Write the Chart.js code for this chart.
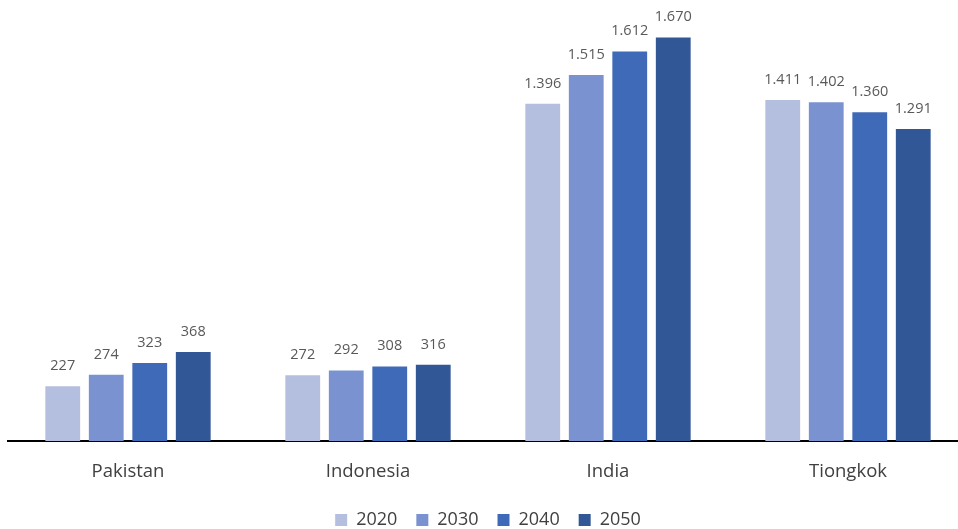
<!DOCTYPE html>
<html>
<head>
<meta charset="utf-8">
<script src="https://cdn.jsdelivr.net/npm/chart.js@4/dist/chart.umd.min.js"></script>
<style>
  html, body { margin: 0; padding: 0; background: #fff; overflow: hidden; }
  #wrap { width: 968px; height: 539px; }
</style>
</head>
<body>
<div id="wrap"><canvas id="populationChart"></canvas></div>
<script>
// Data (millions of people)
const countries = ["Pakistan", "Indonesia", "India", "Tiongkok"];
const years = ["2020", "2030", "2040", "2050"];
const pop2020 = [227, 272, 1396, 1411];
const pop2030 = [274, 292, 1515, 1402];
const pop2040 = [323, 308, 1612, 1360];
const pop2050 = [368, 316, 1670, 1291];

const yearColors = ["#b4bfe0", "#7a93d0", "#3f6ab8", "#315796"];
const fontFamily = "'Open Sans', sans-serif";

// 1396 -> "1.396"
function formatThousands(v) {
  return String(v).replace(/\B(?=(\d{3})+(?!\d))/g, ".");
}

// Simple value labels above each bar
const barValueLabels = {
  id: "barValueLabels",
  afterDatasetsDraw(chart) {
    const ctx = chart.ctx;
    ctx.save();
    ctx.fillStyle = "#595959";
    ctx.font = "14.5px " + fontFamily;
    ctx.textAlign = "center";
    ctx.textBaseline = "bottom";
    chart.data.datasets.forEach((ds, i) => {
      const meta = chart.getDatasetMeta(i);
      meta.data.forEach((bar, j) => {
        ctx.fillText(formatThousands(ds.data[j]), bar.x, bar.y - 13);
      });
    });
    ctx.restore();
  },
};

const seriesValues = [pop2020, pop2030, pop2040, pop2050];

new Chart(document.getElementById("populationChart"), {
  type: "bar",
  data: {
    labels: countries,
    datasets: years.map((year, i) => ({
      label: year,
      data: seriesValues[i],
      backgroundColor: yearColors[i],
      borderWidth: 0,
      categoryPercentage: 0.725,
      barPercentage: 0.8,
    })),
  },
  options: {
    responsive: true,
    maintainAspectRatio: false,
    animation: false,
    layout: { padding: { left: 8, right: 0, top: 6, bottom: 0 } },
    plugins: {
      tooltip: { enabled: false },
      legend: {
        position: "bottom",
        labels: {
          color: "#404040",
          font: { size: 18, family: fontFamily },
          boxWidth: 12,
          boxHeight: 12,
          padding: 19,
        },
      },
    },
    scales: {
      x: {
        grid: { display: false },
        border: { display: true, color: "#000", width: 2 },
        ticks: {
          color: "#404040",
          padding: 12,
          font: { size: 18.5, family: fontFamily },
        },
        afterFit(scale) {
          scale.height = 51;
        },
      },
      y: {
        display: false,
        min: 0,
        max: 1800,
      },
    },
  },
  plugins: [barValueLabels],
});
</script>
</body>
</html>
